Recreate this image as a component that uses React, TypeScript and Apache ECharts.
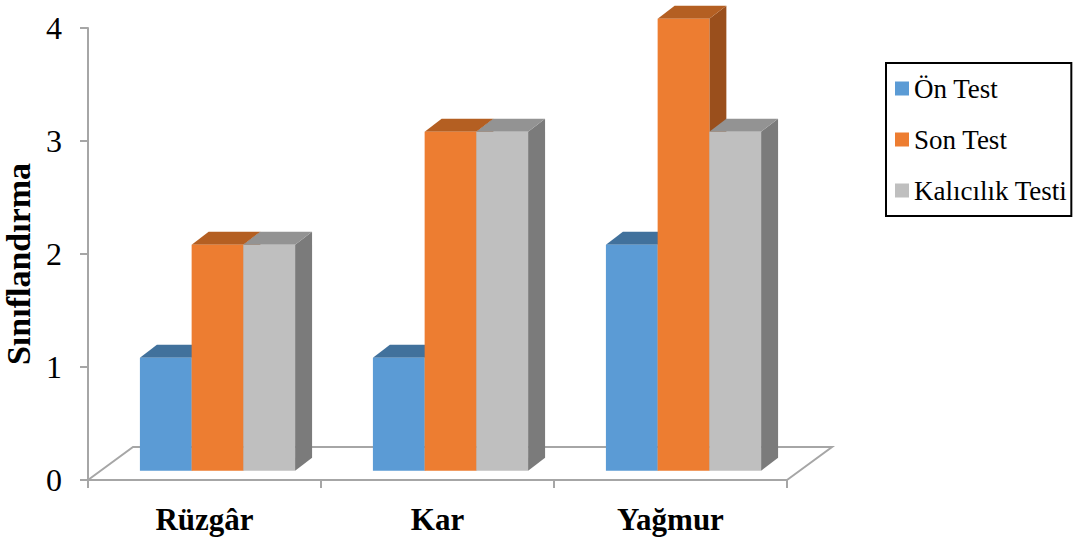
import React, { useEffect, useRef } from "react";
import * as echarts from "echarts";

const categories = ["Rüzgâr", "Kar", "Yağmur"];
const seriesNames = ["Ön Test", "Son Test", "Kalıcılık Testi"];
const onTest = [1, 1, 2];
const sonTest = [2, 3, 4];
const kalicilikTesti = [2, 3, 3];
const yTicks = [0, 1, 2, 3, 4];

const frontColors = ["#5B9BD5", "#ED7D31", "#BFBFBF"];
const topColors = ["#41719C", "#B45F22", "#939393"];
const sideColors = ["#3A6590", "#9A4F1C", "#7B7B7B"];

const SERIF = "Liberation Serif";
const BAR_FRAC = 0.222;
const GROUP_DX = 13;
const GROUP_DY = -9.3;
const DEPTH_DX = 17;
const DEPTH_DY = -13;
const FLOOR_DX = 45;
const FLOOR_DY = -33;

export default function App() {
  const ref = useRef<HTMLDivElement>(null);
  useEffect(() => {
    if (!ref.current) return;
    const chart = echarts.init(ref.current, undefined, { renderer: "svg" });
    const allValues = [onTest, sonTest, kalicilikTesti];

    const barSeries = allValues.map((vals, s) => ({
      type: "custom",
      name: seriesNames[s],
      itemStyle: { color: frontColors[s] },
      data: vals.map((v, i) => [i, v]),
      z: 3,
      renderItem: (params: any, api: any) => {
        const i = api.value(0);
        const v = api.value(1);
        const base = api.coord([i, 0]);
        const top = api.coord([i, v]);
        const band = api.size([1, 0])[0];
        const bw = band * BAR_FRAC;
        const x0 = base[0] + GROUP_DX - 1.5 * bw + s * bw;
        const by = base[1] + GROUP_DY;
        const ty = top[1] + GROUP_DY;
        return {
          type: "group",
          children: [
            {
              type: "polygon",
              shape: {
                points: [
                  [x0 + bw, ty],
                  [x0 + bw + DEPTH_DX, ty + DEPTH_DY],
                  [x0 + bw + DEPTH_DX, by + DEPTH_DY],
                  [x0 + bw, by],
                ],
              },
              style: { fill: sideColors[s] },
            },
            {
              type: "polygon",
              shape: {
                points: [
                  [x0, ty],
                  [x0 + DEPTH_DX, ty + DEPTH_DY],
                  [x0 + bw + DEPTH_DX, ty + DEPTH_DY],
                  [x0 + bw, ty],
                ],
              },
              style: { fill: topColors[s] },
            },
            {
              type: "rect",
              shape: { x: x0, y: ty, width: bw, height: by - ty },
              style: { fill: frontColors[s] },
            },
          ],
        };
      },
    }));

    const floorSeries = {
      type: "custom",
      name: "floor",
      silent: true,
      z: 1,
      data: [[0]],
      renderItem: (params: any, api: any) => {
        const band = api.size([1, 0])[0];
        const l = api.coord([0, 0]);
        const r = api.coord([categories.length - 1, 0]);
        const x1 = l[0] - band / 2;
        const x2 = r[0] + band / 2;
        const y = l[1];
        return {
          type: "polyline",
          shape: {
            points: [
              [x1, y],
              [x1 + FLOOR_DX, y + FLOOR_DY],
              [x2 + FLOOR_DX, y + FLOOR_DY],
              [x2, y],
            ],
          },
          style: { fill: "none", stroke: "#A6A6A6", lineWidth: 2 },
        };
      },
    };

    chart.setOption({
      animation: false,
      textStyle: { fontFamily: SERIF },
      grid: {
        left: 88,
        right: 291,
        top: 28,
        bottom: 62,
        containLabel: false,
        outerBoundsMode: "none",
      },
      legend: {
        data: seriesNames,
        orient: "vertical",
        left: 886,
        top: 63,
        itemWidth: 14,
        itemHeight: 14,
        itemGap: 24,
        icon: "rect",
        padding: [12, 4, 12, 9],
        borderColor: "#000",
        borderWidth: 2,
        textStyle: { fontFamily: SERIF, fontSize: 27, color: "#000" },
      },
      xAxis: {
        type: "category",
        data: categories,
        axisLine: { lineStyle: { color: "#A6A6A6", width: 2 } },
        axisTick: { show: true, length: 8, interval: 0, lineStyle: { color: "#A6A6A6", width: 2 } },
        axisLabel: {
          fontFamily: SERIF,
          fontSize: 31,
          fontWeight: "bold",
          color: "#000",
          margin: 24,
        },
      },
      yAxis: {
        type: "value",
        min: yTicks[0],
        max: yTicks[yTicks.length - 1],
        interval: 1,
        name: "Sınıflandırma",
        nameLocation: "middle",
        nameRotate: 90,
        nameGap: 50,
        nameTextStyle: {
          fontFamily: SERIF,
          fontSize: 34,
          fontWeight: "bold",
          color: "#000",
          padding: [0, 20, 0, 0],
        },
        axisLine: { show: true, lineStyle: { color: "#A6A6A6", width: 2 } },
        axisTick: { show: true, length: 8, lineStyle: { color: "#A6A6A6", width: 2 } },
        splitLine: { show: false },
        axisLabel: { fontFamily: SERIF, fontSize: 32, color: "#000", margin: 26 },
      },
      series: [floorSeries, ...barSeries],
    });
    return () => chart.dispose();
  }, []);
  return (
    <div
      ref={ref}
      style={{ position: "absolute", left: 0, top: 0, width: 1078, height: 542 }}
    />
  );
}
